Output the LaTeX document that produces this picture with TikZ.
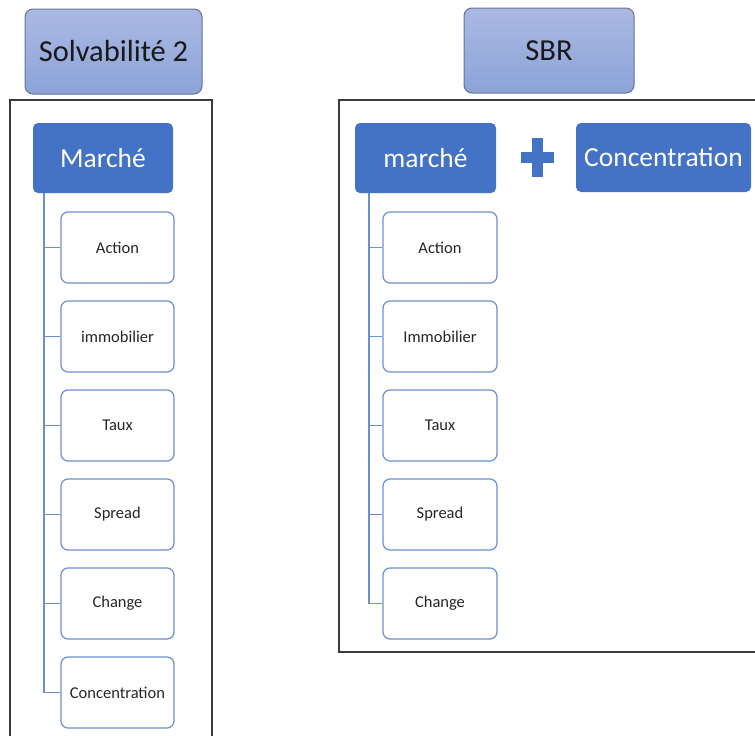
\documentclass[tikz,border=0pt]{standalone}
\usepackage{fontspec}
\setmainfont{Carlito}
\usetikzlibrary{calc}

\definecolor{accent}{HTML}{4472C4}
\definecolor{childline}{HTML}{6A8FD2}
\definecolor{titletop}{HTML}{AAB9E2}
\definecolor{titlebot}{HTML}{8CA3D9}
\definecolor{titleline}{HTML}{667492}
\definecolor{frameline}{HTML}{3A3A3A}
\definecolor{txt}{HTML}{262626}

\tikzset{
  x=1pt, y=-1pt,
  titlebox/.style={draw=titleline, line width=1pt, rounded corners=8pt,
    top color=titletop, bottom color=titlebot, inner sep=0pt,
    font=\fontsize{30.5}{36}\selectfont, text=black!90},
  mainbox/.style={fill=accent, rounded corners=5pt, inner sep=0pt,
    font=\fontsize{27.5}{33}\selectfont, text=white},
  childbox/.style={draw=childline, line width=1.2pt, fill=white, rounded corners=7pt,
    inner sep=0pt, minimum width=113pt, minimum height=71pt,
    font=\fontsize{16.5}{20}\selectfont, text=txt},
  frame/.style={draw=frameline, line width=1.3pt},
  treeline/.style={draw=childline, line width=1.6pt},
  plusbar/.style={fill=accent, draw=none}
}

\begin{document}
\begin{tikzpicture}
\useasboundingbox (0,0) rectangle (755,736);

% outer frames
\draw[frame] (10,760) -- (10,100) -- (212,100) -- (212,760);
\draw[frame] (780,652) -- (339,652) -- (339,100) -- (780,100);

% titles
\node[titlebox, minimum width=177pt, minimum height=85pt] (s2) at (113.5,51.5) {Solvabilité 2};
\node[titlebox, minimum width=170pt, minimum height=85pt] (sbr) at (549,50.5) {SBR};

% left column
\node[mainbox, minimum width=140pt, minimum height=70pt] (lm) at (103,158) {Marché};
\node[childbox] (l1) at (117.5,247.5) {Action};
\node[childbox] (l2) at (117.5,336.5) {immobilier};
\node[childbox] (l3) at (117.5,425.5) {Taux};
\node[childbox] (l4) at (117.5,514.5) {Spread};
\node[childbox] (l5) at (117.5,603.5) {Change};
\node[childbox] (l6) at (117.5,692.5) {Concentration};

\coordinate (lt) at (44,193);
\draw[treeline] (lt) |- (l6.west);
\foreach \c in {l1,l2,l3,l4,l5}
  \draw[treeline] (lt |- \c.west) -- (\c.west);

% right column
\node[mainbox, minimum width=141pt, minimum height=70pt] (rm) at (425.5,158) {marché};
\node[mainbox, minimum width=175pt, minimum height=69pt] (rc) at (663.5,157.5) {Concentration};
\node[childbox, minimum width=114pt] (r1) at (440,247.5) {Action};
\node[childbox, minimum width=114pt] (r2) at (440,336.5) {Immobilier};
\node[childbox, minimum width=114pt] (r3) at (440,425.5) {Taux};
\node[childbox, minimum width=114pt] (r4) at (440,514.5) {Spread};
\node[childbox, minimum width=114pt] (r5) at (440,603.5) {Change};

\coordinate (rt) at (369,193);
\draw[treeline] (rt) |- (r5.west);
\foreach \c in {r1,r2,r3,r4}
  \draw[treeline] (rt |- \c.west) -- (\c.west);

% plus sign between the two blocks
\coordinate (plus) at (537,157.5);
\fill[plusbar] ($(plus)+(-16.5,-5.5)$) rectangle ($(plus)+(16.5,5.5)$);
\fill[plusbar] ($(plus)+(-5.5,-19.5)$) rectangle ($(plus)+(5.5,19.5)$);
\end{tikzpicture}
\end{document}
